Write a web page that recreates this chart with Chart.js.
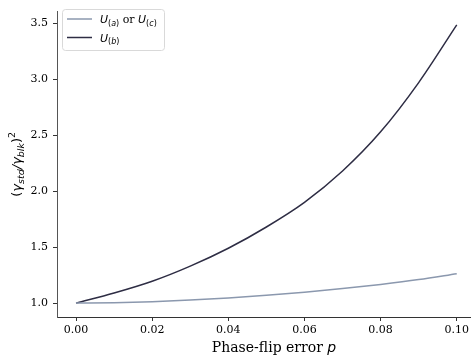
<!DOCTYPE html>
<html>
<head>
<meta charset="utf-8">
<script src="https://cdn.jsdelivr.net/npm/chart.js@4.4.0/dist/chart.umd.min.js"></script>
<style>
    html, body { margin: 0; padding: 0; background: #fff; }
    #wrap { width: 472px; height: 356px; }
</style>
</head>
<body>
<div id="wrap"><canvas id="chart" width="472" height="356"></canvas></div>
<script>
// values
const pValues = [0, 0.01, 0.02, 0.03, 0.04, 0.05, 0.06, 0.07, 0.08, 0.09, 0.10];
const uAC = [1.0, 1.003, 1.012, 1.027, 1.046, 1.07, 1.098, 1.13, 1.167, 1.21, 1.263];
const uB = [1.0, 1.09, 1.195, 1.33, 1.49, 1.68, 1.90, 2.18, 2.53, 2.97, 3.485];
const xTicks = [0, 0.02, 0.04, 0.06, 0.08, 0.10];
const yTicks = [1.0, 1.5, 2.0, 2.5, 3.0, 3.5];

const lightColor = '#8b98ae';
const darkColor = '#2e2d44';
const serif = '"DejaVu Serif", serif';
const sans = '"DejaVu Sans", sans-serif';

function toPoints(ys) {
    return pValues.map((p, i) => ({ x: p, y: ys[i] }));
}

// draws a list of text runs one after another: {t, font, dy}
function drawRuns(ctx, runs, x, y) {
    runs.forEach(r => {
        ctx.font = r.font;
        ctx.fillText(r.t, x, y + (r.dy || 0));
        x += ctx.measureText(r.t).width;
    });
    return x;
}

function runsWidth(ctx, runs) {
    let w = 0;
    runs.forEach(r => { ctx.font = r.font; w += ctx.measureText(r.t).width; });
    return w;
}

const labels = {
    id: 'labels',
    afterDraw(chart) {
        const ctx = chart.ctx;
        const area = chart.chartArea;
        ctx.save();
        ctx.fillStyle = '#000';
        ctx.textBaseline = 'alphabetic';

        // x axis title
        const xRuns = [
            { t: 'Phase-flip error ', font: '14px ' + serif },
            { t: 'p', font: 'italic 14px ' + sans }
        ];
        const xw = runsWidth(ctx, xRuns);
        drawRuns(ctx, xRuns, 274 - xw / 2, 352);

        // y axis title, rotated
        const yRuns = [
            { t: '(', font: '13px ' + sans },
            { t: 'γ', font: 'italic 13px ' + sans },
            { t: 'std', font: 'italic 9.5px ' + sans, dy: 3 },
            { t: '/', font: 'italic 13px ' + sans },
            { t: 'γ', font: 'italic 13px ' + sans },
            { t: 'blk', font: 'italic 9.5px ' + sans, dy: 3 },
            { t: ')', font: '13px ' + sans },
            { t: '2', font: '9.5px ' + sans, dy: -6 }
        ];
        const yw = runsWidth(ctx, yRuns);
        ctx.translate(21, (area.top + area.bottom) / 2);
        ctx.rotate(-Math.PI / 2);
        drawRuns(ctx, yRuns, -yw / 2, 0);
        ctx.restore();

        // legend
        ctx.save();
        ctx.fillStyle = 'rgba(255,255,255,0.8)';
        ctx.strokeStyle = '#d9d9d9';
        ctx.lineWidth = 1;
        ctx.beginPath();
        ctx.roundRect(62.5, 9.5, 102, 41, 3);
        ctx.fill();
        ctx.stroke();

        ctx.lineWidth = 1.5;
        [[lightColor, 19], [darkColor, 37.5]].forEach(([c, y]) => {
            ctx.strokeStyle = c;
            ctx.beginPath();
            ctx.moveTo(67, y);
            ctx.lineTo(92, y);
            ctx.stroke();
        });

        ctx.fillStyle = '#000';
        drawRuns(ctx, [
            { t: 'U', font: 'italic 11px ' + sans },
            { t: '(', font: '8px ' + sans, dy: 2.5 },
            { t: 'a', font: 'italic 8px ' + sans, dy: 2.5 },
            { t: ')', font: '8px ' + sans, dy: 2.5 },
            { t: ' or ', font: '11px ' + serif },
            { t: 'U', font: 'italic 11px ' + sans },
            { t: '(', font: '8px ' + sans, dy: 2.5 },
            { t: 'c', font: 'italic 8px ' + sans, dy: 2.5 },
            { t: ')', font: '8px ' + sans, dy: 2.5 }
        ], 100, 23);
        drawRuns(ctx, [
            { t: 'U', font: 'italic 11px ' + sans },
            { t: '(', font: '8px ' + sans, dy: 2.5 },
            { t: 'b', font: 'italic 8px ' + sans, dy: 2.5 },
            { t: ')', font: '8px ' + sans, dy: 2.5 }
        ], 100, 41.5);
        ctx.restore();
    }
};

new Chart(document.getElementById('chart'), {
    type: 'line',
    data: {
        datasets: [
            {
                label: 'U(a) or U(c)',
                data: toPoints(uAC),
                borderColor: lightColor,
                borderWidth: 1.5,
                pointRadius: 0,
                cubicInterpolationMode: 'monotone',
                fill: false
            },
            {
                label: 'U(b)',
                data: toPoints(uB),
                borderColor: darkColor,
                borderWidth: 1.5,
                pointRadius: 0,
                cubicInterpolationMode: 'monotone',
                fill: false
            }
        ]
    },
    options: {
        responsive: false,
        animation: false,
        layout: { padding: { top: 3, right: 0, left: 0, bottom: 0 } },
        plugins: {
            legend: { display: false },
            tooltip: { enabled: false }
        },
        scales: {
            x: {
                type: 'linear',
                min: -0.005,
                max: 0.1037,
                afterBuildTicks: scale => { scale.ticks = xTicks.map(v => ({ value: v })); },
                afterFit: scale => { scale.height = 39; },
                grid: { display: true, drawOnChartArea: false, drawTicks: true, tickLength: 4, tickColor: '#333' },
                border: { display: true, color: '#333', width: 1 },
                ticks: {
                    color: '#000',
                    padding: 3,
                    maxRotation: 0,
                    font: { family: serif, size: 11 },
                    callback: v => v.toFixed(2)
                }
            },
            y: {
                min: 0.876,
                max: 3.604,
                afterBuildTicks: scale => { scale.ticks = yTicks.map(v => ({ value: v })); },
                afterFit: scale => { scale.width = 57; },
                grid: { display: true, drawOnChartArea: false, drawTicks: true, tickLength: 4, tickColor: '#333' },
                border: { display: true, color: '#555', width: 1 },
                ticks: {
                    color: '#000',
                    padding: 5,
                    font: { family: serif, size: 11 },
                    callback: v => v.toFixed(1)
                }
            }
        }
    },
    plugins: [labels]
});
</script>
</body>
</html>
